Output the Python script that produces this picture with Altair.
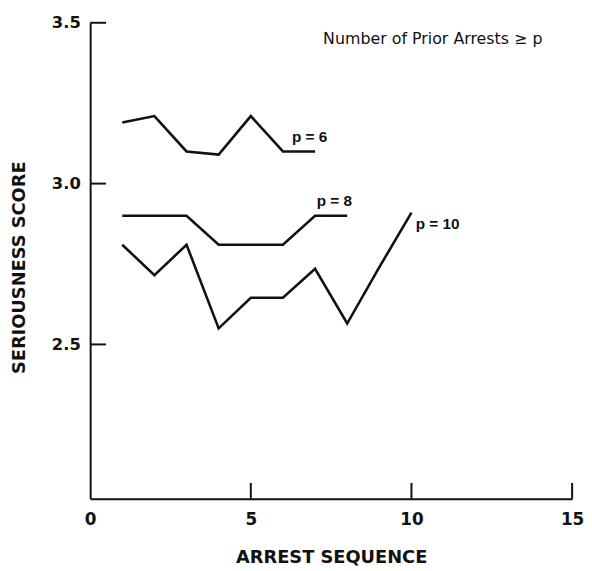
import altair as alt
import pandas as pd

# ---- data ----
seq6 = [1, 2, 3, 4, 5, 6, 7]
score6 = [3.19, 3.21, 3.10, 3.09, 3.21, 3.10, 3.10]

seq8 = [1, 2, 3, 4, 5, 6, 7, 8]
score8 = [2.90, 2.90, 2.90, 2.81, 2.81, 2.81, 2.90, 2.90]

seq10 = [1, 2, 3, 4, 5, 6, 7, 8, 9, 10]
score10 = [2.81, 2.715, 2.81, 2.55, 2.645, 2.645, 2.735, 2.565, 2.74, 2.91]

series_labels = ["p = 6", "p = 8", "p = 10"]
label_x = [6.28, 7.05, 10.13]
label_y = [3.146, 2.947, 2.873]

note_text = ["Number of Prior Arrests \u2265 p"]
note_x = [7.25]
note_y = [3.435]

x_ticks = [0, 5, 10, 15]
y_ticks = [2.5, 3.0, 3.5]
x_inner_ticks = [5, 10, 15]

FONT = "DejaVu Sans"
INK = "#111111"

rows = []
for name, xs, ys in [("p = 6", seq6, score6), ("p = 8", seq8, score8), ("p = 10", seq10, score10)]:
    for a, b in zip(xs, ys):
        rows.append({"series": name, "x": a, "y": b})
lines_df = pd.DataFrame(rows)

xscale = alt.Scale(domain=[0, 15], nice=False, zero=False)
yscale = alt.Scale(domain=[2.02, 3.5], nice=False, zero=False)

lines = alt.Chart(lines_df).mark_line(color=INK, strokeWidth=2.6, strokeJoin="miter").encode(
    x=alt.X("x:Q", scale=xscale,
            axis=alt.Axis(values=x_ticks, title="ARREST SEQUENCE", format="d",
                          labelFontSize=17, labelPadding=13, labelFlush=False,
                          titleFontSize=18, titleY=50, titleBaseline="top")),
    y=alt.Y("y:Q", scale=yscale,
            axis=alt.Axis(values=y_ticks, title="SERIOUSNESS SCORE", format=".1f",
                          labelFontSize=16.5, labelPadding=10, labelFlush=False,
                          titleFontSize=18, titleX=-71, titleY=247,
                          titleBaseline="middle")),
    detail="series:N",
)

labels_df = pd.DataFrame({"x": label_x, "y": label_y, "t": series_labels})
labels = alt.Chart(labels_df).mark_text(
    align="left", baseline="middle", font="Liberation Sans", fontSize=15.5,
    fontWeight="bold", color=INK
).encode(x="x:Q", y="y:Q", text="t:N")

note_df = pd.DataFrame({"x": note_x, "y": note_y, "t": note_text})
note = alt.Chart(note_df).mark_text(
    align="left", baseline="alphabetic", font=FONT, fontSize=16, color=INK
).encode(x="x:Q", y="y:Q", text="t:N")

xt_df = pd.DataFrame({"x": x_inner_ticks})
xticks = alt.Chart(xt_df).mark_rule(color=INK, strokeWidth=2).encode(
    x="x:Q", y=alt.value(481), y2=alt.value(465)
)

yt_df = pd.DataFrame({"y": y_ticks})
yticks = alt.Chart(yt_df).mark_rule(color=INK, strokeWidth=2).encode(
    y="y:Q", x=alt.value(0), x2=alt.value(16)
)

chart = alt.layer(lines, xticks, yticks, labels, note).properties(
    width=487,
    height=481,
    autosize=alt.AutoSizeParams(type="none"),
    padding={"left": 83, "top": 12, "right": 12, "bottom": 70},
).configure_view(stroke=None).configure_axis(
    grid=False,
    ticks=False,
    domainColor=INK,
    domainWidth=2,
    labelColor=INK,
    titleColor=INK,
    labelFont=FONT,
    titleFont=FONT,
    labelFontWeight="bold",
    titleFontWeight="bold",
)

chart.save("out.html", embed_options={"renderer": "svg", "actions": False})
